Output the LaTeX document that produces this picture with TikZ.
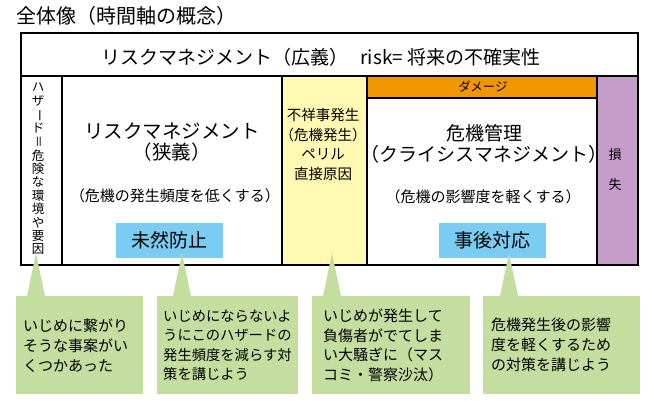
\documentclass[tikz,border=0pt]{standalone}
\usepackage{fontspec}
\setmainfont{Noto Sans CJK JP}
\usetikzlibrary{positioning}

\definecolor{perilfill}{RGB}{255,249,180}
\definecolor{damagefill}{RGB}{242,150,0}
\definecolor{lossfill}{RGB}{196,156,200}
\definecolor{platefill}{RGB}{122,204,242}
\definecolor{leaffill}{RGB}{196,222,160}

\newcommand{\tatechar}[1]{\rotatebox[origin=c]{-90}{#1}}
\newcommand{\fs}[2]{\fontsize{#1}{#2}\selectfont}

\tikzset{
  frame/.style={draw, line width=2pt},
  platebox/.style={fill=platefill, minimum width=107pt, minimum height=35pt, inner sep=0pt, font=\fs{19}{21}},
  note/.style={fill=leaffill, anchor=north west, minimum height=98pt, align=left, inner ysep=0pt, font=\fs{15}{20}},
}

\begin{document}
\begin{tikzpicture}[x=1pt, y=-1pt]
  \useasboundingbox (0,0) rectangle (649,400);
  \node[anchor=west, inner sep=0pt, font=\fs{20}{20}] (title) at (16,16) {全体像（時間軸の概念）};

  % frame
  \draw[frame] (21,33) rectangle (638,76);
  \draw[frame] (21,76) rectangle (62,265);
  \draw[frame] (62,76) rectangle (282,265);
  \draw[frame, fill=perilfill] (282,76) rectangle (367,265);
  \draw[frame, fill=damagefill] (367,76) rectangle (597,98);
  \draw[frame] (367,98) rectangle (597,265);
  \draw[frame, fill=lossfill] (597,76) rectangle (638,265);

  \node[inner sep=0pt, font=\fs{19}{19}] (broad) at (321,57) {リスクマネジメント（広義）\hspace{12pt}risk= 将来の不確実性};

  \node[align=center, inner sep=0pt, font=\fs{12.5}{13.4}] (hazard) at (38,169)
    {ハ\\ザ\\\tatechar{ー}\\ド\\\tatechar{＝}\\危\\険\\な\\環\\境\\や\\要\\因};

  \node[align=center, font=\fs{19.5}{21}] (narrow) at (172,142.5) {リスクマネジメント\\（狭義）};
  \node[font=\fs{15}{15}] (narrowaim) at (175,196) {（危機の発生頻度を低くする）};
  \node[platebox] (prevent) at (169.5,240.5) {未然防止};

  \node[align=center, font=\fs{14.5}{19.5}] (peril) at (323,144.5) {不祥事発生\\（危機発生）\\ペリル\\直接原因};

  \node[font=\fs{12.5}{12.5}] (damage) at (483,87) {ダメージ};
  \node[align=center, font=\fs{19}{21}] (crisis) at (484,143.5) {危機管理\\（クライシスマネジメント）};
  \node[font=\fs{15}{15}] (crisisaim) at (483,197) {（危機の影響度を軽くする）};
  \node[platebox] (respond) at (492,240.5) {事後対応};

  \node[align=center, font=\fs{13}{30}] (loss) at (615,170) {損\\失};

  % notes
  \node[note, text width=113pt, inner xsep=7pt] (hint1) at (16,296) {いじめに繋がり\\そうな事案がい\\くつかあった};
  \node[note, text width=129pt, inner xsep=6pt, font=\fs{14.3}{19.5}] (hint2) at (157,296) {いじめにならないよ\\うにこのハザードの\\発生頻度を減らす対\\策を講じよう};
  \node[note, text width=136pt, inner xsep=11pt, font=\fs{15}{19.5}] (hint3) at (312,296) {いじめが発生して\\負傷者がでてしま\\い大騒ぎに（マス\\コミ・警察沙汰）};
  \node[note, text width=141pt, inner xsep=8pt] (hint4) at (483,296) {危機発生後の影響\\度を軽くするため\\の対策を講じよう};

  \coordinate (tip1) at (36,253);
  \coordinate (tip2) at (182,253);
  \coordinate (tip3) at (332,253);
  \coordinate (tip4) at (509,253);
  \foreach \n in {1,...,4}
    \fill[leaffill] (tip\n) -- ([xshift=-9pt]tip\n |- hint\n.north) -- ([xshift=9pt]tip\n |- hint\n.north) -- cycle;
\end{tikzpicture}
\end{document}
